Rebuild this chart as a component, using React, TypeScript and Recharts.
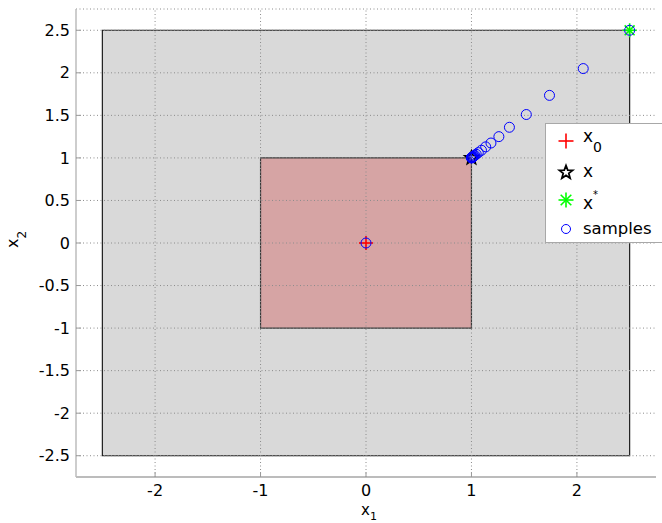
import React from 'react';
import { ScatterChart, Scatter, XAxis, YAxis, ReferenceArea, ReferenceLine, Legend } from 'recharts';

const FONT = '"DejaVu Sans", "Liberation Sans", Arial, sans-serif';

const xTicks = [-2, -1, 0, 1, 2];
const yTicks = [-2.5, -2, -1.5, -1, -0.5, 0, 0.5, 1, 1.5, 2, 2.5];
const axisDomain = [-2.75, 2.75];
const outerBox = [-2.5, 2.5];
const innerBox = [-1, 1];

const x0Point = [{ x: 0, y: 0 }];
const xPoint = [{ x: 1, y: 1 }];
const xStarPoint = [{ x: 2.5, y: 2.5 }];

const sampleX1 = [0, 2.5, 2.06, 1.74, 1.52, 1.36, 1.26, 1.185, 1.135, 1.095, 1.065, 1.045, 1.032, 1.022, 1.015, 1.01, 1.007, 1.005, 1.003, 1.002, 1.001, 1.0];
const sampleX2 = [0, 2.5, 2.05, 1.735, 1.51, 1.36, 1.25, 1.175, 1.13, 1.09, 1.062, 1.043, 1.03, 1.021, 1.014, 1.01, 1.007, 1.005, 1.003, 1.002, 1.001, 1.0];
const samples = sampleX1.map((v, i) => ({ x: v, y: sampleX2[i] }));

const legendLabels = ['x0', 'x', 'x*', 'samples'];

const RED = '#ff0000';
const GREEN = '#00ff00';
const BLUE = '#0000ff';

function plus(cx: number, cy: number, r = 7) {
  return (
    <g>
      <line x1={cx - r} x2={cx + r} y1={cy} y2={cy} stroke={RED} strokeWidth={1.6} />
      <line x1={cx} x2={cx} y1={cy - r} y2={cy + r} stroke={RED} strokeWidth={1.6} />
    </g>
  );
}

function pentagram(cx: number, cy: number, R = 7, sw = 1.6) {
  const pts: string[] = [];
  for (let k = 0; k < 10; k++) {
    const a = ((-90 + k * 36) * Math.PI) / 180;
    const r = k % 2 === 0 ? R : R * 0.42;
    pts.push(`${cx + r * Math.cos(a)},${cy + r * Math.sin(a)}`);
  }
  return <polygon points={pts.join(' ')} fill="none" stroke="#000" strokeWidth={sw} strokeLinejoin="miter" />;
}

function asterisk(cx: number, cy: number, r = 7) {
  const d = r * 0.7071;
  return (
    <g stroke={GREEN} strokeWidth={1.6}>
      <line x1={cx - r} x2={cx + r} y1={cy} y2={cy} />
      <line x1={cx} x2={cx} y1={cy - r} y2={cy + r} />
      <line x1={cx - d} x2={cx + d} y1={cy - d} y2={cy + d} />
      <line x1={cx - d} x2={cx + d} y1={cy + d} y2={cy - d} />
    </g>
  );
}

function ring(cx: number, cy: number, r = 5) {
  return <circle cx={cx} cy={cy} r={r} fill="none" stroke={BLUE} strokeWidth={1} />;
}

const PlusShape = (p: any) => plus(p.cx, p.cy);
const StarShape = (p: any) => pentagram(p.cx, p.cy);
const AsteriskShape = (p: any) => asterisk(p.cx, p.cy);
const RingShape = (p: any) => ring(p.cx, p.cy);

const LegendBox = () => {
  const mx = 21;
  const tx = 38;
  return (
    <div
      style={{
        width: 117,
        height: 120,
        background: '#fff',
        borderLeft: '1px solid #a8a8a8',
        borderTop: '1px solid #a8a8a8',
        borderBottom: '1px solid #a8a8a8',
        boxSizing: 'border-box',
      }}
    >
      <svg width={117} height={120} style={{ position: 'absolute', left: 0, top: 0 }}>
        {plus(mx, 18, 7.5)}
        <text x={tx} y={19} fontFamily={FONT} fontSize={17} fill="#000">
          {legendLabels[0].charAt(0)}
          <tspan dy={10} fontSize={14}>{legendLabels[0].slice(1)}</tspan>
        </text>
        {pentagram(mx, 49.5, 7, 1.8)}
        <text x={tx} y={54} fontFamily={FONT} fontSize={17} fill="#000">{legendLabels[1]}</text>
        {asterisk(mx, 77, 7.5)}
        <text x={tx} y={86} fontFamily={FONT} fontSize={17} fill="#000">{legendLabels[2].charAt(0)}</text>
        <text x={tx + 10} y={75} fontFamily={FONT} fontSize={10} fill="#000">{legendLabels[2].slice(1)}</text>
        {ring(mx, 106, 4.5)}
        <text x={tx} y={111} fontFamily={FONT} fontSize={16.5} fill="#000">{legendLabels[3]}</text>
      </svg>
    </div>
  );
};

const XLabel = (props: any) => {
  const vb = props.viewBox || { x: 76, width: 580 };
  const cx = vb.x + vb.width / 2;
  return (
    <text x={cx - 5} y={515} fontFamily={FONT} fontSize={15} fill="#000">
      x<tspan dy={5} fontSize={11}>1</tspan>
    </text>
  );
};

const YLabel = (props: any) => {
  const vb = props.viewBox || { y: 9, height: 468 };
  const cy = vb.y + vb.height / 2;
  return (
    <text transform={`translate(18, ${cy + 5}) rotate(-90)`} fontFamily={FONT} fontSize={16} fill="#000">
      x<tspan dy={8} fontSize={12}>2</tspan>
    </text>
  );
};

const gridStroke = '#8c8c8c';
const gridDash = '1 2.5';

export default function App() {
  return (
    <div style={{ position: 'absolute', left: 0, top: 0, width: 662, height: 523, background: '#fff' }}>
      <ScatterChart width={662} height={523} margin={{ top: 9, right: 6, bottom: 16, left: 6 }}>
        <XAxis
          type="number"
          dataKey="x"
          domain={axisDomain}
          ticks={xTicks}
          interval={0}
          allowDataOverflow
          height={30}
          tickSize={-5}
          tickMargin={13}
          tick={{ fill: '#000', fontSize: 16, fontFamily: FONT }}
          tickLine={{ stroke: '#999' }}
          axisLine={{ stroke: '#a6a6a6', strokeWidth: 1.5 }}
          label={<XLabel />}
        />
        <YAxis
          type="number"
          dataKey="y"
          domain={axisDomain}
          ticks={yTicks}
          interval={0}
          allowDataOverflow
          width={70}
          tickSize={-5}
          tickMargin={11}
          tick={{ fill: '#000', fontSize: 16, fontFamily: FONT }}
          tickLine={{ stroke: '#999' }}
          axisLine={{ stroke: '#bdbdbd', strokeWidth: 1.5 }}
          label={<YLabel />}
        />
        <ReferenceArea
          x1={outerBox[0]}
          x2={outerBox[1]}
          y1={outerBox[0]}
          y2={outerBox[1]}
          fill="#d9d9d9"
          fillOpacity={1}
          stroke="#1e1e1e"
          strokeWidth={1.2}
        />
        <ReferenceArea
          x1={innerBox[0]}
          x2={innerBox[1]}
          y1={innerBox[0]}
          y2={innerBox[1]}
          fill="#d6a4a4"
          fillOpacity={1}
          stroke="#3a3a3a"
          strokeWidth={1.2}
        />
        {xTicks.map((t) => (
          <ReferenceLine key={'gx' + t} x={t} stroke={gridStroke} strokeDasharray={gridDash} strokeWidth={1} />
        ))}
        {yTicks.map((t) => (
          <ReferenceLine key={'gy' + t} y={t} stroke={gridStroke} strokeDasharray={gridDash} strokeWidth={1} />
        ))}
        <ReferenceLine y={axisDomain[1]} stroke={gridStroke} strokeDasharray={gridDash} strokeWidth={1} />
        <Scatter name="x0" data={x0Point} shape={PlusShape} isAnimationActive={false} />
        <Scatter name="x" data={xPoint} shape={StarShape} isAnimationActive={false} />
        <Scatter name="x*" data={xStarPoint} shape={AsteriskShape} isAnimationActive={false} />
        <Scatter name="samples" data={samples} shape={RingShape} isAnimationActive={false} />
        <Legend
          layout="horizontal"
          verticalAlign="middle"
          align="center"
          content={() => <LegendBox />}
          wrapperStyle={{ left: 545, top: 123, width: 117, height: 120 }}
        />
      </ScatterChart>
    </div>
  );
}
